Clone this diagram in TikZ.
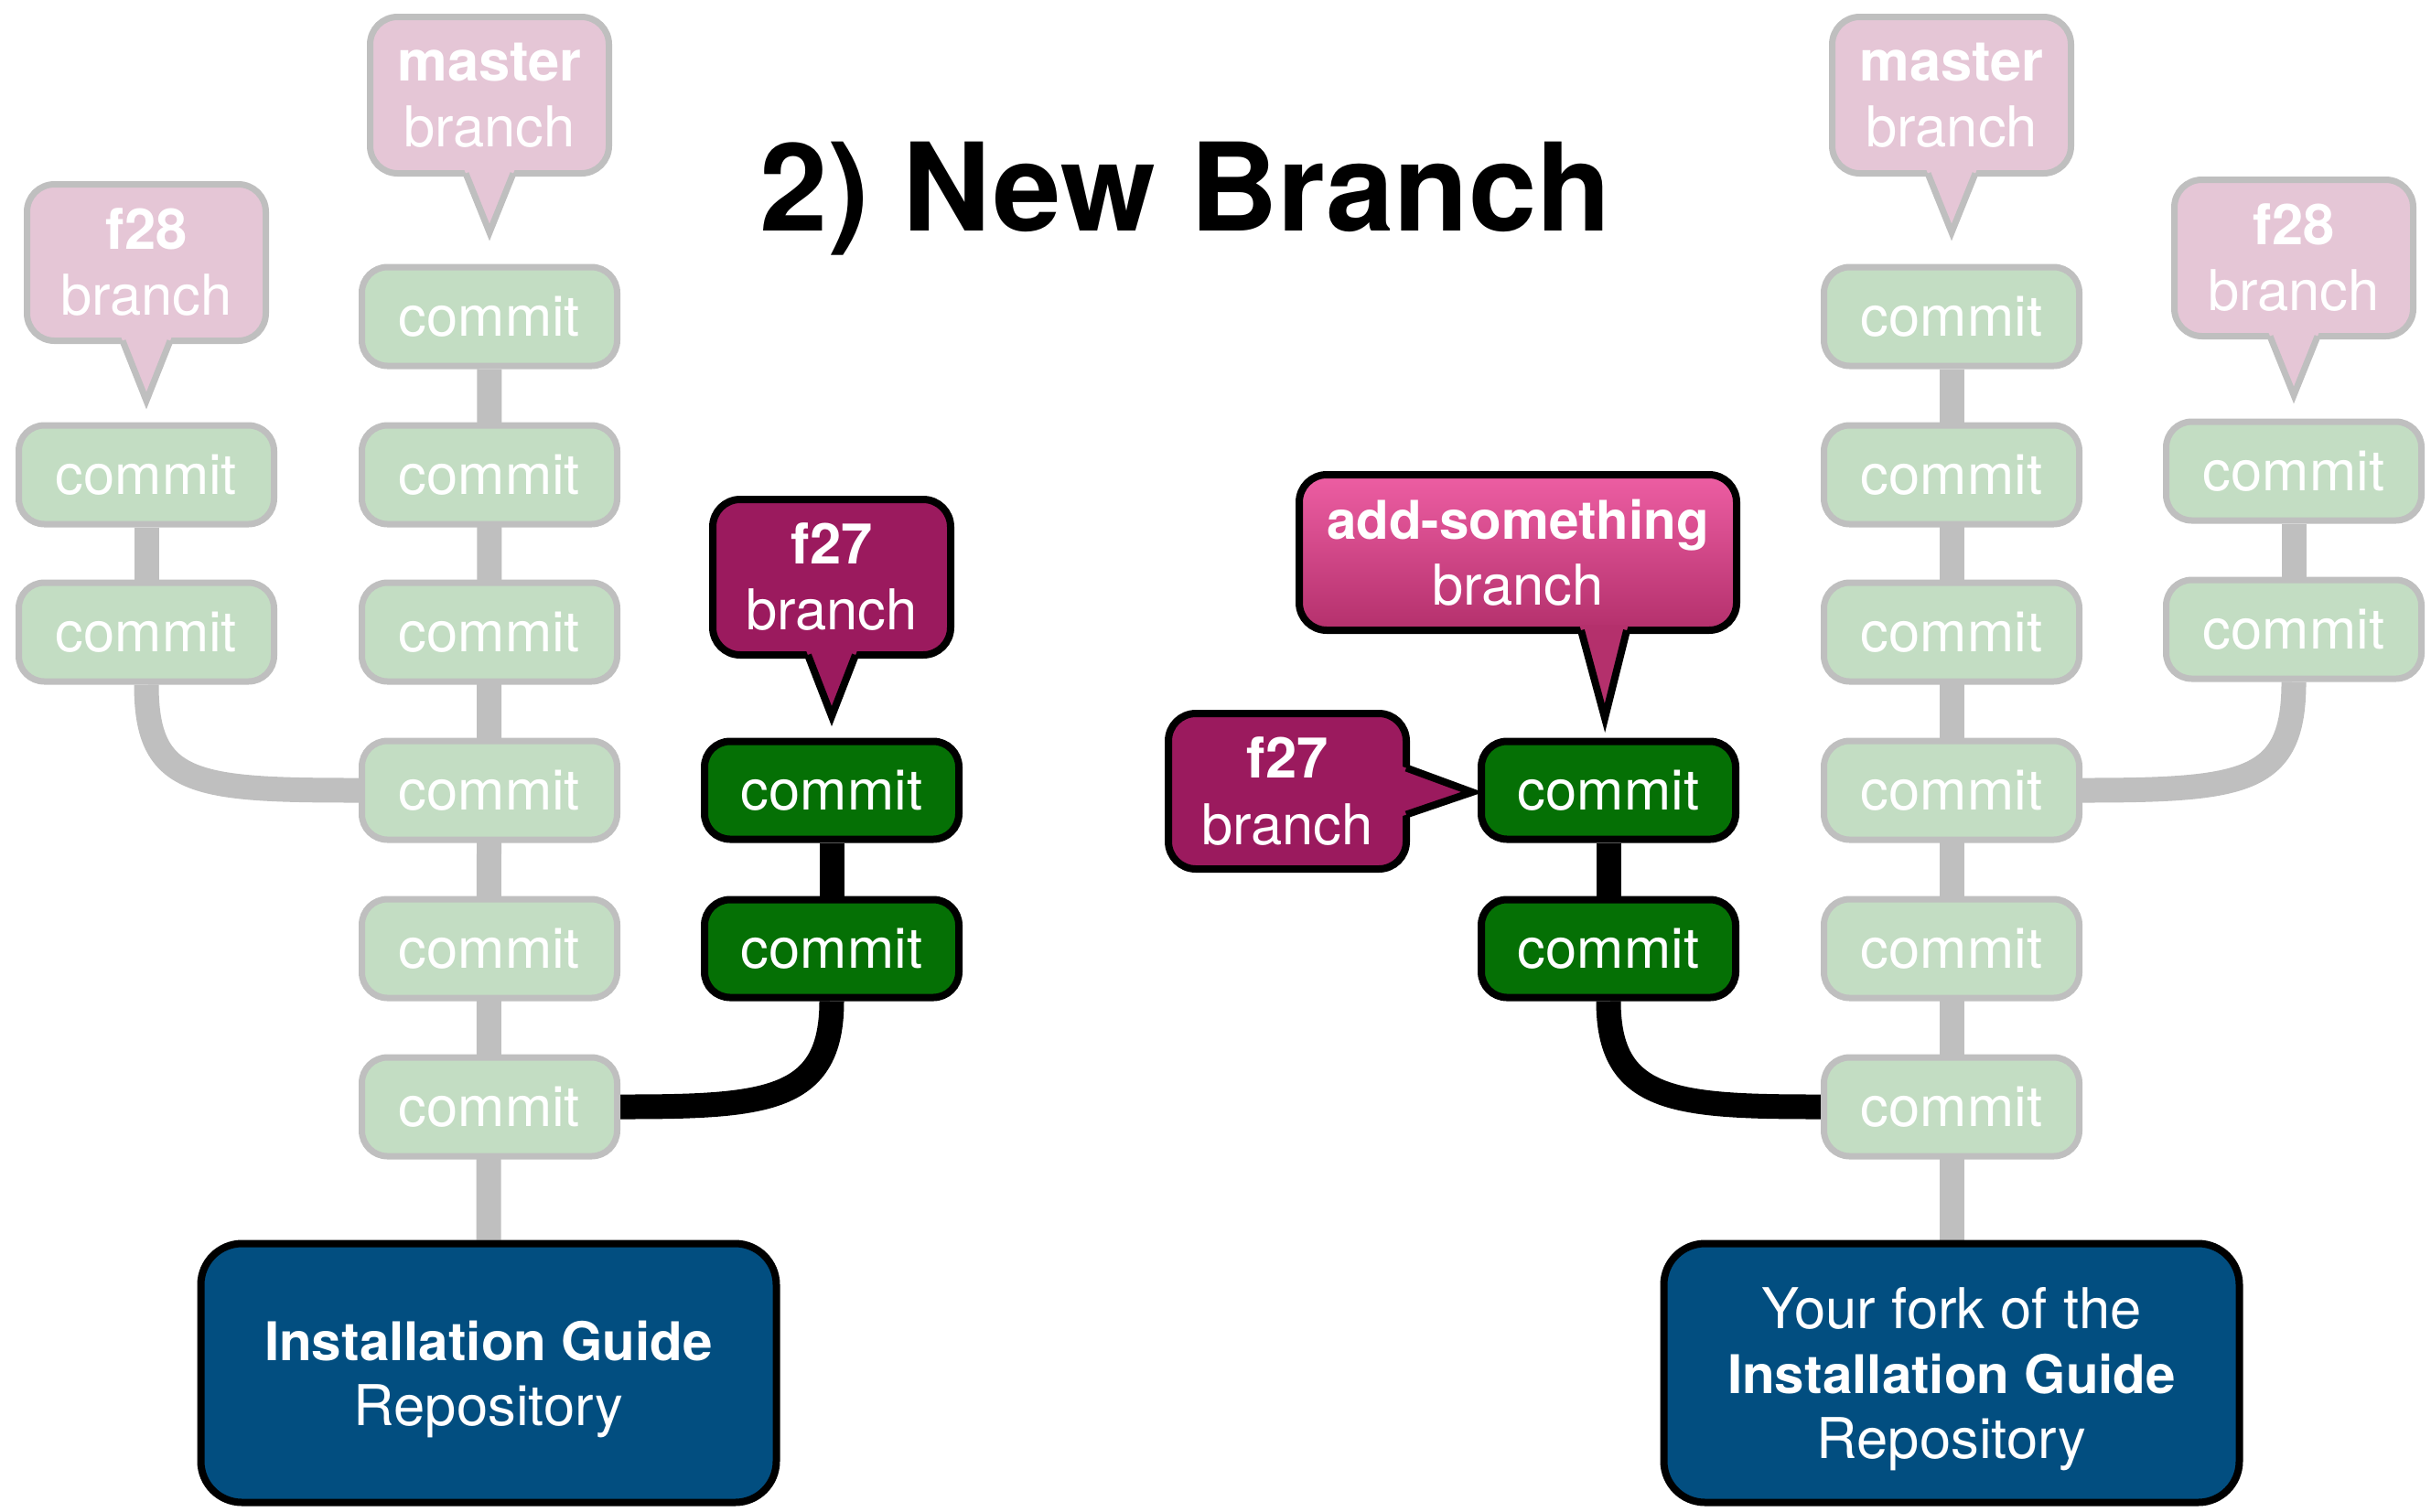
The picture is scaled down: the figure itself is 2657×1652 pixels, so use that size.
\documentclass[tikz,border=0pt]{standalone}
\usepackage{fontspec}
\setmainfont{TeX Gyre Heros}
\usetikzlibrary{calc,backgrounds}
\definecolor{paleedge}{RGB}{191,191,191}
\definecolor{palegreen}{RGB}{195,221,195}
\definecolor{paletag}{RGB}{229,198,214}
\definecolor{darkgreen}{RGB}{5,112,5}
\definecolor{plum}{RGB}{155,26,94}
\definecolor{addtop}{RGB}{237,94,163}
\definecolor{addbot}{RGB}{180,48,108}
\definecolor{repoblue}{RGB}{2,78,128}
\tikzset{>=latex}
\newcommand{\boldpart}[1]{{\fontsize{16.6}{20}\selectfont\bfseries #1}}
\tikzstyle{oldcommit}=[rectangle,draw=paleedge,fill=palegreen,line width=0.7mm,text=white,minimum width=27.9mm,minimum height=10.8mm,rounded corners=2.8mm,font=\fontsize{17.5}{21}\selectfont]
\tikzstyle{newcommit}=[rectangle,draw=black,fill=darkgreen,line width=0.8mm,text=white,minimum width=27.8mm,minimum height=10.7mm,rounded corners=2.8mm,font=\fontsize{17.5}{21}\selectfont]
\tikzstyle{oldtag}=[rectangle,draw=paleedge,fill=paletag,line width=0.7mm,text=white,minimum width=26.1mm,minimum height=17.1mm,rounded corners=3mm,align=center,outer sep=0pt,font=\fontsize{17.5}{20.5}\selectfont]
\tikzstyle{newtag}=[rectangle,draw=black,fill=plum,line width=0.8mm,text=white,minimum width=26mm,minimum height=17mm,rounded corners=3mm,align=center,outer sep=0pt,font=\fontsize{17.5}{20.5}\selectfont]
\tikzstyle{repo}=[rectangle,draw=black,fill=repoblue,line width=0.8mm,text=white,minimum width=62.9mm,minimum height=28.3mm,rounded corners=4.5mm,align=center,text depth=0pt,font=\fontsize{17.5}{20.3}\selectfont]
\tikzstyle{paleline}=[draw=paleedge,line width=2.7mm]
\tikzstyle{darkline}=[draw=black,line width=2.7mm]
\tikzstyle{palepoint}=[draw=paleedge,line width=0.7mm,line join=miter]
\tikzstyle{darkpoint}=[draw=black,line width=0.8mm,line join=miter]

\begin{document}
\begin{tikzpicture}[x=0.1mm,y=-0.1mm]
	\useasboundingbox (0,0) rectangle (2657,1652);
	\def \colA {160}
	\def \colB {535}
	\def \colC {909}
	\def \colD {1758}
	\def \colE {2133}
	\def \colF {2507}
	\def \rowA {346}
	\def \rowB {519}
	\def \rowC {691}
	\def \rowD {864}
	\def \rowE {1037}
	\def \rowF {1210}

	\node (title) at (1296,252) [anchor=base,font=\fontsize{38}{44}\selectfont\bfseries] {2) New Branch};

	% left: the main repository
	\node[oldcommit] (lm1) at (\colB,\rowA) {commit};
	\node[oldcommit] (lm2) at (\colB,\rowB) {commit};
	\node[oldcommit] (lm3) at (\colB,\rowC) {commit};
	\node[oldcommit] (lm4) at (\colB,\rowD) {commit};
	\node[oldcommit] (lm5) at (\colB,\rowE) {commit};
	\node[oldcommit] (lm6) at (\colB,\rowF) {commit};

	\node[oldcommit] (lf1) at (\colA,\rowB) {commit};
	\node[oldcommit] (lf2) at (\colA,\rowC) {commit};

	\node[newcommit] (lg1) at (\colC,\rowD) {commit};
	\node[newcommit] (lg2) at (\colC,\rowE) {commit};

	\node[repo] (lrepo) at (534,1501) {\boldpart{Installation Guide}\\Repository};

	\node[oldtag] (lmtag) at (\colB,104) {\textbf{master}\\branch};
	\coordinate (lmtip) at (\colB,254);
	\fill[paletag] ($(lmtag.south)+(-28.4,-6)$) -- (lmtip) -- ($(lmtag.south)+(28.4,-6)$) -- cycle;
	\draw[palepoint] ($(lmtag.south)+(-26,0)$) -- (lmtip) -- ($(lmtag.south)+(26,0)$);

	\node[oldtag] (lf28tag) at (\colA,287) {\textbf{f28}\\branch};
	\coordinate (lf28tip) at (\colA,438);
	\fill[paletag] ($(lf28tag.south)+(-28.4,-6)$) -- (lf28tip) -- ($(lf28tag.south)+(28.4,-6)$) -- cycle;
	\draw[palepoint] ($(lf28tag.south)+(-26,0)$) -- (lf28tip) -- ($(lf28tag.south)+(26,0)$);

	\node[newtag] (lf27tag) at (\colC,631) {\textbf{f27}\\branch};
	\coordinate (lf27tip) at (\colC,783);
	\fill[plum] ($(lf27tag.south)+(-28.4,-6)$) -- (lf27tip) -- ($(lf27tag.south)+(28.4,-6)$) -- cycle;
	\draw[darkpoint] ($(lf27tag.south)+(-26,0)$) -- (lf27tip) -- ($(lf27tag.south)+(26,0)$);

	% right: the fork
	\node[oldcommit] (rm1) at (\colE,\rowA) {commit};
	\node[oldcommit] (rm2) at (\colE,\rowB) {commit};
	\node[oldcommit] (rm3) at (\colE,\rowC) {commit};
	\node[oldcommit] (rm4) at (\colE,\rowD) {commit};
	\node[oldcommit] (rm5) at (\colE,\rowE) {commit};
	\node[oldcommit] (rm6) at (\colE,\rowF) {commit};

	\node[oldcommit] (rf1) at (\colF,515) {commit};
	\node[oldcommit] (rf2) at (\colF,688) {commit};

	\node[newcommit] (rg1) at (\colD,\rowD) {commit};
	\node[newcommit] (rg2) at (\colD,\rowE) {commit};

	\node[repo] (rrepo) at (\colE,1501) {Your fork of the\\\boldpart{Installation Guide}\\Repository};

	\node[oldtag] (rmtag) at (\colE,104) {\textbf{master}\\branch};
	\coordinate (rmtip) at (\colE,254);
	\fill[paletag] ($(rmtag.south)+(-28.4,-6)$) -- (rmtip) -- ($(rmtag.south)+(28.4,-6)$) -- cycle;
	\draw[palepoint] ($(rmtag.south)+(-26,0)$) -- (rmtip) -- ($(rmtag.south)+(26,0)$);

	\node[oldtag] (rf28tag) at (\colF,282) {\textbf{f28}\\branch};
	\coordinate (rf28tip) at (\colF,432);
	\fill[paletag] ($(rf28tag.south)+(-28.4,-6)$) -- (rf28tip) -- ($(rf28tag.south)+(28.4,-6)$) -- cycle;
	\draw[palepoint] ($(rf28tag.south)+(-26,0)$) -- (rf28tip) -- ($(rf28tag.south)+(26,0)$);

	\node[newtag,minimum width=47.8mm,top color=addtop,bottom color=addbot] (addtag) at (1659,604) {\boldpart{add-something}\\branch};
	\coordinate (addtip) at (1754,785);
	\fill[addbot] ($(addtag.south)+(94-26.6,-6)$) -- (addtip) -- ($(addtag.south)+(94+26.6,-6)$) -- cycle;
	\draw[darkpoint] ($(addtag.south)+(94-25,0)$) -- (addtip) -- ($(addtag.south)+(94+25,0)$);

	\node[newtag] (rf27tag) at (1407,865) {\textbf{f27}\\branch};
	\coordinate (rf27tip) at (1609,866);
	\fill[plum] ($(rf27tag.east)+(-6,-27.6)$) -- (rf27tip) -- ($(rf27tag.east)+(-6,27.6)$) -- cycle;
	\draw[darkpoint] ($(rf27tag.east)+(0,-25.5)$) -- (rf27tip) -- ($(rf27tag.east)+(0,25.5)$);

	% history lines behind the commits
	\begin{scope}[on background layer]
		\draw[paleline] (lm1) -- (lrepo);
		\draw[paleline] (lf1) -- (lf2);
		\draw[paleline] (lf2.south) .. controls +(0,110) and +(-180,0) .. (lm4.west);
		\draw[darkline] (lg1) -- (lg2);
		\draw[darkline] (lg2.south) .. controls +(0,110) and +(160,0) .. (lm6.east);

		\draw[paleline] (rm1) -- (rrepo);
		\draw[paleline] (rf1) -- (rf2);
		\draw[paleline] (rf2.south) .. controls +(0,110) and +(180,0) .. (rm4.east);
		\draw[darkline] (rg1) -- (rg2);
		\draw[darkline] (rg2.south) .. controls +(0,110) and +(-160,0) .. (rm6.west);
	\end{scope}
\end{tikzpicture}
\end{document}
